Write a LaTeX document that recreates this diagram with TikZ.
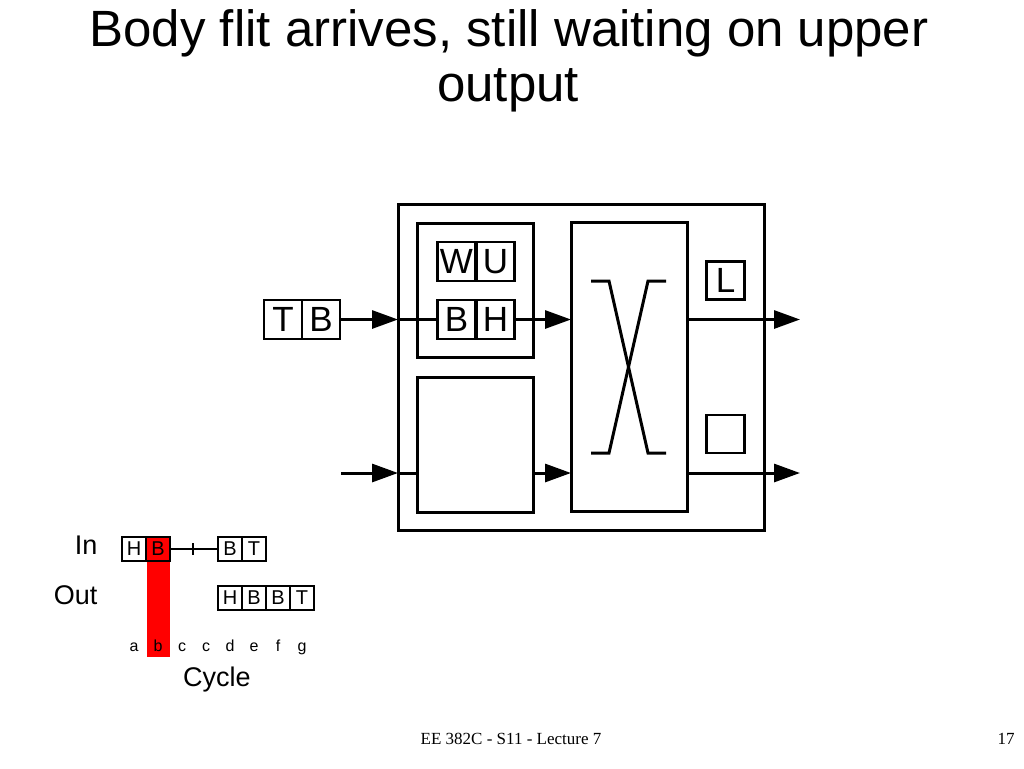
\documentclass[tikz,border=0pt]{standalone}
\usepackage{fontspec}
\setmainfont{Liberation Sans}
\newfontfamily\footfont{Liberation Serif}
\usetikzlibrary{arrows.meta}
\usetikzlibrary{calc}

\begin{document}
\begin{tikzpicture}[x=1pt, y=-1pt,
        box/.style={draw, line width=3pt, inner sep=0pt, outer sep=0pt},
        cell/.style={draw, line width=2.5pt, minimum width=38pt, minimum height=39pt, inner sep=0pt, outer sep=0pt, font=\fontsize{35}{35}\selectfont},
        tcell/.style={draw, line width=1.3pt, minimum width=24pt, minimum height=24pt, inner sep=0pt, outer sep=0pt, font=\fontsize{20}{20}\selectfont},
        link/.style={line width=3pt, -{Triangle[length=26pt, width=18pt]}},
        wire/.style={line width=3pt},
        cyc/.style={font=\fontsize{16}{16}\selectfont, anchor=base}]
        \useasboundingbox (0,0) rectangle (1024,768);
        % title
        \node[font=\fontsize{51}{51}\selectfont, anchor=base] (title1) at (509,46) {Body flit arrives, still waiting on upper};
        \node[font=\fontsize{51}{51}\selectfont, anchor=base] (title2) at (508,101) {output};
        % router
        \node[box, minimum width=366pt, minimum height=326pt] (router) at (581,367) {};
        \node[box, minimum width=116pt, minimum height=134pt] (upbuf) at (475,290) {};
        \node[box, minimum width=116pt, minimum height=135pt] (lowbuf) at (475,444.5) {};
        \node[box, minimum width=116pt, minimum height=289pt] (xbar) at (629,367) {};
        \node[cell] (w) at (456.5,261.5) {W};
        \node[cell] (u) at (495.5,261.5) {U};
        \node[cell] (bb) at (456.5,319.5) {B};
        \node[cell] (bh) at (495.5,319.5) {H};
        \node[cell] (t) at (283,319.5) {T};
        \node[cell] (tb) at (321,319.5) {B};
        \node[cell, minimum width=38pt, minimum height=38pt] (l) at (725.5,280.5) {L};
        \node[cell, minimum width=38pt, minimum height=38pt] (m) at (725.5,434) {};
        % crossbar
        \draw[wire] (591,281) -- (609,281) -- (648,453) -- (666,453);
        \draw[wire] (666,281) -- (648,281) -- (609,453) -- (591,453);
        % upper path
        \coordinate (uin) at (router.west |- tb.east);
        \draw[link] (tb.east) -- (uin);
        \draw[wire] (uin) -- (bb.west);
        \draw[link] (bh.east) -- (xbar.west |- bh.east);
        \coordinate (uout) at (800,319.5);
        \draw[link] (xbar.east |- bh.east) -- (uout);
        % lower path
        \coordinate (lsrc) at (341,473);
        \coordinate (lin) at (router.west |- lsrc);
        \draw[link] (lsrc) -- (lin);
        \draw[wire] (lin) -- (lowbuf.west |- lsrc);
        \draw[link] (lowbuf.east |- lsrc) -- (xbar.west |- lsrc);
        \coordinate (lout) at (800,473);
        \draw[link] (xbar.east |- lsrc) -- (lout);
        % timeline
        \fill[red] (146.5,537) rectangle (170,657);
        \node[font=\fontsize{27}{27}\selectfont, anchor=base east] (in) at (101,554) {In};
        \node[font=\fontsize{27}{27}\selectfont, anchor=base east] (out) at (101,604) {Out};
        \node[tcell] (ih) at (134,549) {H};
        \node[tcell] (ib) at (158,549) {B};
        \node[tcell] (jb) at (230,549) {B};
        \node[tcell] (jt) at (254,549) {T};
        \draw[line width=1.3pt] (ib.east) -- (jb.west);
        \draw[line width=1.3pt] (193,543) -- (193,555);
        \node[tcell] (oh) at (230,598) {H};
        \node[tcell] (ob1) at (254,598) {B};
        \node[tcell] (ob2) at (278,598) {B};
        \node[tcell] (ot) at (302,598) {T};
        \node[cyc] (ca) at (134,651) {a};
        \node[cyc] (cb) at (158,651) {b};
        \node[cyc] (cc1) at (182,651) {c};
        \node[cyc] (cc2) at (206,651) {c};
        \node[cyc] (cd) at (230,651) {d};
        \node[cyc] (ce) at (254,651) {e};
        \node[cyc] (cf) at (278,651) {f};
        \node[cyc] (cg) at (302,651) {g};
        \node[font=\fontsize{27}{27}\selectfont, anchor=base] (cycle) at (217,686) {Cycle};
        % footer
        \node[font=\footfont\fontsize{17}{17}\selectfont, anchor=base] (foot) at (511,744) {EE 382C - S11 - Lecture 7};
        \node[font=\footfont\fontsize{17}{17}\selectfont, anchor=base] (page) at (1006,744) {17};
    \end{tikzpicture}
\end{document}
